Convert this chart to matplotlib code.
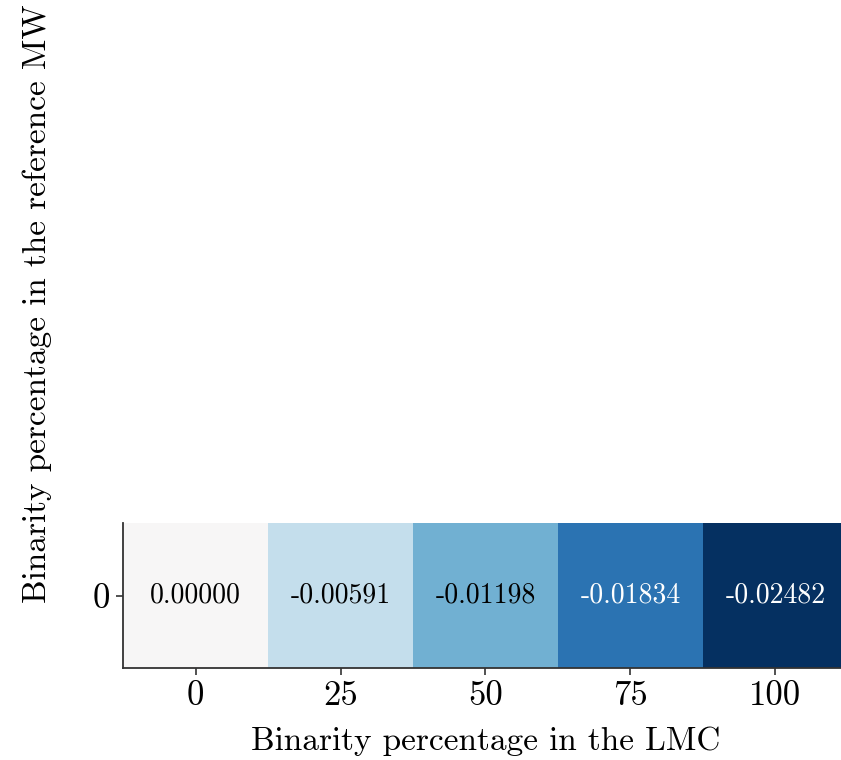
import matplotlib
matplotlib.use("Agg")
import matplotlib.pyplot as plt
import numpy as np

# binarity grid: one MW reference row, five LMC binarity fractions
lmc_binarity = [0, 25, 50, 75, 100]
mw_binarity = [0]
delta = np.array([[0.00000, -0.00591, -0.01198, -0.01834, -0.02482]])

plt.rcParams.update({
    'font.family': 'serif',
    'font.serif': ['cmr10'],
    'mathtext.fontset': 'cm',
    'axes.formatter.use_mathtext': True,
    'axes.unicode_minus': False,
})


def rel_lum(rgb):
    # relative luminance, used to pick the annotation colour
    c = np.asarray(rgb[:3])
    c = np.where(c <= 0.03928, c / 12.92, ((c + 0.055) / 1.055) ** 2.4)
    return 0.2126 * c[0] + 0.7152 * c[1] + 0.0722 * c[2]


fig = plt.figure(figsize=(8.41, 7.60), dpi=100)
W, H = 841, 760
ax = fig.add_axes([123 / W, (H - 668) / H, 725 / W, 145 / H])

lim = np.abs(delta).max()
cmap = plt.get_cmap('RdBu_r')
norm = plt.Normalize(-lim, lim)
ax.imshow(delta, cmap=cmap, norm=norm, aspect='auto')

for i in range(delta.shape[0]):
    for j in range(delta.shape[1]):
        lum = rel_lum(cmap(norm(delta[i, j])))
        ax.text(j, i, f"{delta[i, j]:.5f}", ha='center', va='center',
                fontsize=20, color='black' if lum > 0.3 else 'white')

ax.set_xticks(range(len(lmc_binarity)))
ax.set_xticklabels(lmc_binarity)
ax.set_yticks(range(len(mw_binarity)))
ax.set_yticklabels(mw_binarity)
ax.tick_params(labelsize=25, length=5, width=1.2, color='#333333', pad=4)

for side in ['top', 'right']:
    ax.spines[side].set_visible(False)
for side in ['left', 'bottom']:
    ax.spines[side].set_linewidth(1.3)
    ax.spines[side].set_color('#333333')

ax.set_xlabel('Binarity percentage in the LMC', fontsize=24, labelpad=10)
ax.set_ylabel('Binarity percentage in the reference MW', fontsize=24)
ax.yaxis.set_label_coords(-0.098, 2.51)

fig.savefig('out.png', dpi=100)
